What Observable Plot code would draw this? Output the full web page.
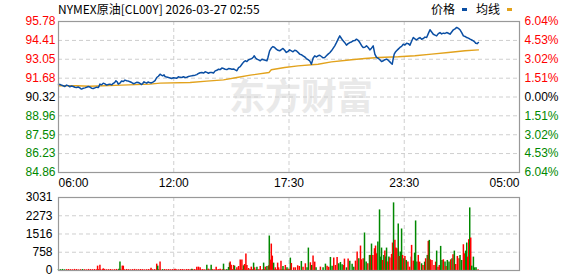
<!DOCTYPE html>
<html><head><meta charset="utf-8">
<script src="https://cdn.jsdelivr.net/npm/d3@7"></script>
<script src="https://cdn.jsdelivr.net/npm/@observablehq/plot@0.6"></script>
<style>
body{margin:0;background:#fff;}
#wrap{position:relative;width:578px;height:276px;overflow:hidden;font-family:"Liberation Sans",Arial,sans-serif;background:#fff;}
#wrap svg{position:absolute;left:0;}
.t{position:absolute;font-size:12px;white-space:nowrap;line-height:12px;color:#000;font-family:"Noto Sans CJK SC","Liberation Sans",sans-serif;}
.sw{position:absolute;width:5px;height:3px;}
</style></head><body><div id="wrap"></div>
<script>
// ---------- data ----------
const title = "NYMEX原油[CL00Y] 2026-03-27 02:55";
const legendNames = ["价格", "均线"];
const legendColors = ["#0a4ea3", "#e2a21c"];
const timeTicks = [0, 345, 690, 1035, 1380];
const timeLabels = ["06:00", "12:00", "17:30", "23:30", "05:00"];
const priceTicks = [95.78, 94.41, 93.05, 91.68, 90.32, 88.96, 87.59, 86.23, 84.86];
const pctLabels = ["6.04%", "4.53%", "3.02%", "1.51%", "0.00%", "1.51%", "3.02%", "4.53%", "6.04%"];
const preClose = 90.32;
const volTicks = [3031, 2273, 1516, 758, 0];
const watermark = "东方财富";

// minute offsets from 06:00 and last price (main readings)
const priceMin = [0,14,24,34,44,54,64,69,79,89,99,109,119,124,134,144,154,164,172,179,189,199,209,219,229,239,249,256,264,272,284,294,304,312,319,329,339,349,359,369,379,389,399,409,419,429,439,449,459,469,479,489,499,509,519,529,539,549,559,569,579,586,594,604,614,624,627,632,642,652,662,672,682,692,702,712,722,732,742,752,757,767,777,787,797,807,817,827,837,842,852,862,872,882,892,902,912,922,932,942,947,952,962,972,982,992,999,1005,1012,1022,1032,1042,1052,1062,1072,1082,1092,1102,1112,1122,1132,1142,1152,1162,1172,1182,1192,1202,1212,1222,1232,1242,1249,1257];
const priceVal = [91.25,91.13,91.18,91.06,91.08,91.01,90.98,90.89,90.98,91.08,90.96,90.98,91.01,91.25,91.32,91.18,91.25,91.30,91.49,91.25,91.47,91.54,91.47,91.37,91.32,91.37,91.22,91.42,91.32,91.37,91.42,91.73,91.97,91.85,91.80,91.73,91.66,91.70,91.78,91.73,91.73,91.80,91.85,91.90,92.02,92.09,92.14,92.04,92.09,92.21,92.33,92.41,92.33,92.38,92.33,92.28,92.45,92.69,92.94,93.01,93.10,93.30,93.06,92.94,93.01,92.94,93.18,93.66,93.97,93.78,93.66,93.83,93.54,93.73,93.59,93.66,93.42,93.30,93.10,92.94,92.69,93.30,93.30,93.25,93.18,93.42,93.66,94.02,94.50,94.74,94.38,94.07,94.26,94.38,94.50,94.26,93.90,94.02,93.73,94.02,93.42,93.18,93.01,92.94,93.06,92.86,92.69,93.42,93.66,93.90,94.14,94.21,94.07,94.62,94.45,94.62,94.55,94.62,95.18,94.86,94.74,94.98,94.94,94.98,94.86,95.18,95.35,95.18,94.74,94.62,94.50,94.38,94.21,94.26];
// in-between readings (the small zig-zags)
const priceMin2 = [7,19,29,39,49,59,66,74,84,94,104,114,121,129,139,149,159,168,176,184,194,204,214,224,234,244,252,260,268,278,289,299,308,316,324,334,344,354,364,374,384,394,404,414,424,434,444,454,464,474,484,494,504,514,524,534,544,554,564,574,583,590,599,609,619,637,647,657,667,677,687,697,707,717,727,737,747,762,772,782,792,802,812,822,832,847,857,867,877,887,897,907,917,927,937,957,967,977,987,995,1002,1008,1017,1027,1037,1047,1057,1067,1077,1087,1097,1107,1117,1127,1137,1147,1157,1167,1177,1187,1197,1207,1217,1227,1237,1246,1253];
const priceVal2 = [91.20,91.08,91.14,91.12,91.03,91.04,90.93,90.95,91.02,91.04,90.93,91.03,91.08,91.20,91.27,91.22,91.20,91.36,91.40,91.33,91.44,91.50,91.42,91.28,91.38,91.30,91.30,91.36,91.40,91.34,91.50,91.82,91.90,91.92,91.76,91.70,91.72,91.68,91.74,91.78,91.75,91.83,91.88,91.94,92.07,92.05,92.10,92.10,92.06,92.25,92.30,92.38,92.30,92.36,92.35,92.22,92.52,92.84,92.88,93.06,93.20,93.14,93.00,93.05,92.98,93.86,93.90,93.70,93.75,93.70,93.62,93.66,93.70,93.55,93.38,93.22,93.02,93.12,93.22,93.34,93.15,93.30,93.52,93.84,94.25,94.55,94.25,94.18,94.30,94.40,94.42,94.05,93.92,93.90,93.85,93.12,92.88,93.02,92.98,92.78,93.10,93.55,93.78,93.98,94.08,94.18,94.35,94.52,94.55,94.50,94.65,94.90,95.02,94.80,94.90,94.88,94.92,94.93,95.02,95.25,95.28,94.98,94.70,94.58,94.44,94.30,94.18];

// average price line
const avgMin = [0,54,94,189,274,304,394,444,494,534,574,630,637,677,717,777,817,877,917,957,1017,1067,1117,1167,1217,1257];
const avgVal = [91.13,91.13,91.10,91.18,91.25,91.32,91.37,91.47,91.56,91.73,91.90,92.09,92.29,92.45,92.57,92.69,92.86,93.01,93.10,93.18,93.23,93.30,93.42,93.54,93.66,93.73];

// quiet-session volume, every 6 minutes from 06:00
const baseVol = [40,35,44,30,38,42,36,33,45,40,28,37,41,35,30,44,39,36,42,31,38,35,40,46,33,37,41,29,36,44,38,35,40,32,43,37,30,39,45,34,36,41,38,30,35,42,37,33,40,44,36,31,38,42,35,39,33,40,45,36,30,38,41,35,43,37,32,39,44,36,34,40,38,31,42,37,35,41,33,39,45,36,38,30,42,37,34,40,44,36,39,33,41,38,35,43,37,40,32,39,45,36,38,42,34,40,37,31,43,39,36,41,38,35,44,40];
const baseDir = "ggggrrrrrrrrgrrrrrrrrrrrrrrrrrrrrrrrrrrrrrrrrrrrrrrrgrrrrrrrrrrrrrrrrrrrrrrgrrrrrrrrgrrrrgrrrrrgrrrrrrrgrrgrrrrgrrrgrr";

// notable volume bars: minute, volume, direction (r = up, g = down)
const volMin = [117,124,134,181,184,191,194,277,294,297,304,349,399,414,419,424,444,449,457,472,484,494,509,512,514,517,524,527,534,539,544,549,554,557,561,564,569,577,584,587,594,604,614,619,624,629,631,634,637,640,644,649,656,659,666,672,679,684,689,694,697,704,709,716,721,727,732,739,744,748,754,758,762,767,771,784,792,799,804,809,814,819,824,829,834,839,844,849,854,856,862,867,872,879,884,889,894,899,904,907,912,916,921,926,931,934,937,941,946,949,952,956,961,964,967,970,974,977,980,982,986,989,992,997,1000,1003,1007,1010,1013,1017,1020,1023,1027,1030,1034,1037,1041,1046,1051,1056,1057,1062,1066,1069,1073,1077,1081,1087,1091,1096,1099,1104,1107,1110,1113,1118,1124,1129,1132,1136,1140,1144,1148,1152,1157,1160,1164,1169,1174,1178,1181,1185,1189,1194,1199,1202,1207,1212,1215,1219,1222,1225,1228,1231,1234,1237,1242,1246,1250,1256];
const volVal = [181,222,70,56,348,181,181,97,264,181,348,56,56,139,139,111,222,56,222,139,56,264,125,306,348,222,209,181,111,167,431,431,195,250,681,209,83,139,306,111,139,167,306,139,167,195,1432,431,1098,598,306,111,306,111,389,167,209,111,56,514,292,111,111,195,167,375,139,278,111,931,320,209,598,348,111,139,111,264,181,139,542,181,514,209,542,278,334,236,209,473,111,473,389,264,139,389,765,487,1015,445,487,1557,348,278,626,626,1098,626,904,1015,695,1182,2516,556,931,417,626,806,556,931,348,556,514,667,1140,2808,1251,931,904,1932,584,765,1724,626,487,584,417,348,139,556,1043,389,723,2057,348,626,348,278,209,348,487,626,1209,1251,445,417,209,348,806,139,209,1001,417,445,348,167,417,348,445,487,653,806,250,584,487,626,417,1070,695,806,1140,556,1279,2599,1348,181,556,111,111,28];
const volDir = "rrrggrrrrgrrgrrrgrgrrgggrrrgrrrrgrrrrrgrgrgrgrgrrrgrrrrgrgrgrrrrrgrrggrgrrgrggrrggrrrgggrrgrgggrrgrrrggrgrgrrrrggggrgrggrgrrrgrrrgrggrgrgrrgrrgggrrgrgrgrgrrrrgrrggrgrggrgrgrrrggrrggrrgrggggrggg";

// ---------- build ----------
const RED = "#ff0000", GREEN = "#008800", BLUE = legendColors[0], ORANGE = legendColors[1];
const priceData = priceMin.map((m, i) => ({m, v: priceVal[i]}))
  .concat(priceMin2.map((m, i) => ({m, v: priceVal2[i]})))
  .sort((a, b) => a.m - b.m);
const avgData = avgMin.map((m, i) => ({m, v: avgVal[i]}));
const baseData = baseVol.map((v, i) => ({m: i * 6, v, c: baseDir[i] === "r" ? RED : GREEN}));
const volData = volMin.map((m, i) => ({m, v: volVal[i], c: volDir[i] === "r" ? RED : GREEN}));
const tickColor = d => d > preClose ? RED : d < preClose ? GREEN : "#000";
const font = "'Liberation Sans', Arial, sans-serif";
const grid = {stroke: "#cfcfcf", strokeDasharray: "4,3", strokeWidth: 1};

const wrap = document.getElementById("wrap");

const p1 = Plot.plot({
  width: 578, height: 192,
  marginLeft: 58, marginRight: 59, marginTop: 21, marginBottom: 20,
  x: {domain: [0, 1380], axis: null},
  y: {domain: [84.86, 95.78], axis: null},
  color: {type: "identity"},
  style: {background: "transparent", fontFamily: font, fontSize: "12px", overflow: "visible"},
  marks: [
    Plot.text([watermark], {text: d => d, frameAnchor: "middle", dx: 12, dy: 1, fontSize: 36, fontWeight: "bold", fill: "#e9e9e9", fontFamily: "'Noto Sans CJK SC', sans-serif"}),
    Plot.ruleY(priceTicks.slice(1, -1), {y: d => d, ...grid}),
    Plot.ruleX(timeTicks.slice(1, -1), {x: d => d, ...grid}),
    Plot.line(avgData, {x: "m", y: "v", stroke: ORANGE, strokeWidth: 1.4}),
    Plot.line(priceData, {x: "m", y: "v", stroke: BLUE, strokeWidth: 1.5}),
    Plot.frame({stroke: "#999", strokeWidth: 1.2}),
    Plot.text(priceTicks, {x: 0, y: d => d, text: d => d.toFixed(2), textAnchor: "end", dx: -3, fill: tickColor}),
    Plot.text(priceTicks, {x: 1380, y: d => d, text: (d, i) => pctLabels[i], textAnchor: "start", dx: 5, fill: tickColor}),
    Plot.text([0], {x: d => timeTicks[d], y: 84.86, dy: 11, text: d => timeLabels[d], textAnchor: "start", fill: "#000"}),
    Plot.text([1, 2, 3], {x: d => timeTicks[d], y: 84.86, dy: 11, text: d => timeLabels[d], textAnchor: "middle", fill: "#000"}),
    Plot.text([4], {x: d => timeTicks[d], y: 84.86, dy: 11, text: d => timeLabels[d], textAnchor: "end", fill: "#000"})
  ]
});
p1.style.top = "0px";
wrap.appendChild(p1);

const p2 = Plot.plot({
  width: 578, height: 86,
  marginLeft: 58, marginRight: 59, marginTop: 7, marginBottom: 6,
  x: {domain: [0, 1380], axis: null},
  y: {domain: [0, 3031], axis: null},
  color: {type: "identity"},
  style: {background: "transparent", fontFamily: font, fontSize: "12px", overflow: "visible"},
  marks: [
    Plot.ruleY(volTicks.slice(1, -1), {y: d => d, ...grid}),
    Plot.ruleX(timeTicks.slice(1, -1), {x: d => d, ...grid}),
    Plot.ruleX(baseData, {x: "m", y1: 0, y2: "v", stroke: "c", strokeWidth: 1.5}),
    Plot.ruleX(volData, {x: "m", y1: 0, y2: "v", stroke: "c", strokeWidth: 1.5}),
    Plot.frame({stroke: "#999", strokeWidth: 1.2}),
    Plot.text(volTicks, {x: 0, y: d => d, text: d => String(d), textAnchor: "end", dx: -6, fill: "#000"})
  ]
});
p2.style.top = "190px";
wrap.appendChild(p2);

// title and legend
function addText(txt, left, top) {
  const d = document.createElement("div");
  d.className = "t"; d.textContent = txt;
  d.style.left = left + "px"; d.style.top = top + "px";
  wrap.appendChild(d);
  return d;
}
addText(title, 58, 3);
addText(legendNames[0], 431, 3);
addText(legendNames[1], 476, 3);
[[462, 0], [507, 1]].forEach(([x, i]) => {
  const s = document.createElement("div");
  s.className = "sw"; s.style.left = x + "px"; s.style.top = "8px"; s.style.background = legendColors[i];
  wrap.appendChild(s);
});
</script></body></html>
